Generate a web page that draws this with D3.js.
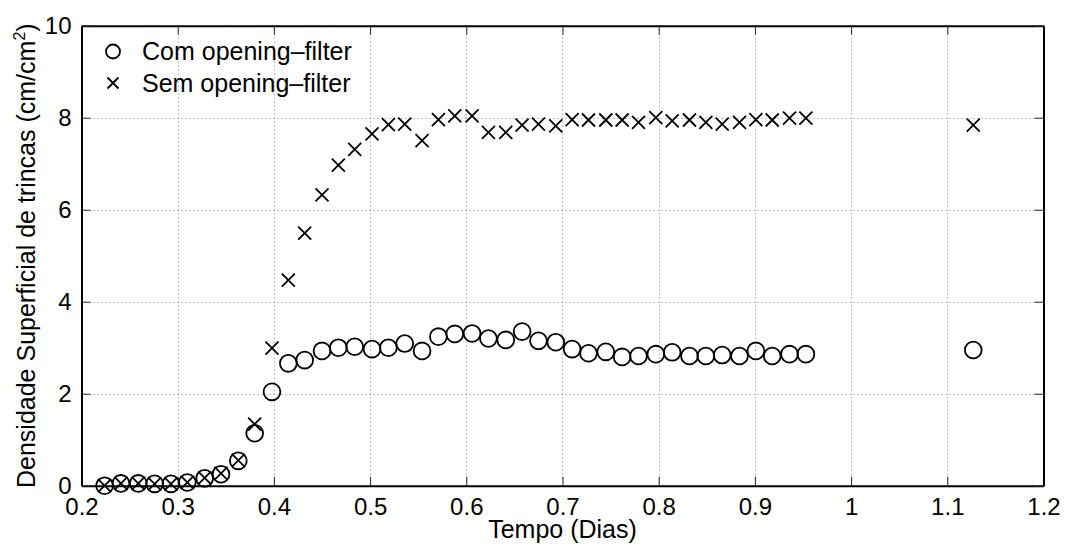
<!DOCTYPE html>
<html>
<head>
<meta charset="utf-8">
<script src="https://cdn.jsdelivr.net/npm/d3@7"></script>
<style>
  html, body { margin: 0; padding: 0; background: #fff; }
  svg { display: block; font-family: "Liberation Sans", Arial, Helvetica, sans-serif; }
</style>
</head>
<body>
<svg id="chart" width="1065" height="544"></svg>
<script>
// Tempo de ensaio (dias)
const tempo = [0.224, 0.241, 0.259, 0.276, 0.293, 0.310, 0.328, 0.345, 0.363, 0.380,
               0.398, 0.415, 0.432, 0.450, 0.467, 0.484, 0.502, 0.519, 0.536, 0.554,
               0.571, 0.588, 0.606, 0.623, 0.641, 0.658, 0.675, 0.693, 0.710, 0.727,
               0.745, 0.762, 0.779, 0.797, 0.814, 0.832, 0.849, 0.866, 0.884, 0.901,
               0.918, 0.936, 0.953, 1.127];

// Densidade superficial de trincas (cm/cm²) com opening-filter
const comFiltro = [0.00, 0.05, 0.05, 0.04, 0.04, 0.07, 0.16, 0.25, 0.54, 1.14,
                   2.04, 2.66, 2.73, 2.93, 3.00, 3.02, 2.97, 3.00, 3.09, 2.93,
                   3.24, 3.30, 3.31, 3.20, 3.17, 3.35, 3.15, 3.12, 2.97, 2.88,
                   2.91, 2.80, 2.82, 2.86, 2.90, 2.82, 2.82, 2.84, 2.82, 2.93,
                   2.82, 2.86, 2.86, 2.95];

// Densidade superficial de trincas (cm/cm²) sem opening-filter
const semFiltro = [0.00, 0.05, 0.05, 0.04, 0.04, 0.07, 0.17, 0.27, 0.55, 1.34,
                   2.99, 4.47, 5.49, 6.32, 6.97, 7.31, 7.65, 7.85, 7.86, 7.50,
                   7.96, 8.04, 8.04, 7.68, 7.68, 7.84, 7.86, 7.82, 7.96, 7.95,
                   7.95, 7.95, 7.90, 8.00, 7.93, 7.95, 7.90, 7.86, 7.90, 7.96,
                   7.95, 7.99, 7.99, 7.84];

const xTicks = [0.2, 0.3, 0.4, 0.5, 0.6, 0.7, 0.8, 0.9, 1, 1.1, 1.2];
const yTicks = [0, 2, 4, 6, 8, 10];
const legendLabels = ["Com opening\u2013filter", "Sem opening\u2013filter"];

const svg = d3.select("#chart");
const margin = { left: 81.5, right: 1065 - 1043.5, top: 25.7, bottom: 544 - 485.7 };
const W = 1065, H = 544;

const x = d3.scaleLinear().domain([0.2, 1.2]).range([margin.left, W - margin.right]);
const y = d3.scaleLinear().domain([0, 10]).range([H - margin.bottom, margin.top]);

// grade pontilhada
const grid = svg.append("g").attr("class", "grid")
  .attr("stroke", "#8a8a8a").attr("stroke-width", 1).attr("stroke-dasharray", "1,3");
grid.selectAll("line.v").data(xTicks.slice(1, -1)).join("line")
  .attr("x1", d => Math.round(x(d)) + 0.5).attr("x2", d => Math.round(x(d)) + 0.5)
  .attr("y1", y(10)).attr("y2", y(0));
grid.selectAll("line.h").data(yTicks.slice(1, -1)).join("line")
  .attr("y1", d => Math.round(y(d)) + 0.5).attr("y2", d => Math.round(y(d)) + 0.5)
  .attr("x1", x(0.2)).attr("x2", x(1.2));

// eixos com marcas para dentro
const tickLen = 9;
const styleAxis = g => {
  g.select(".domain").attr("stroke", "#000").attr("stroke-width", 2);
  g.selectAll(".tick line").attr("stroke", "#222").attr("stroke-width", 1);
  g.selectAll(".tick text").attr("fill", "#000").attr("font-size", 24)
    .attr("font-family", "'Liberation Sans', Arial, Helvetica, sans-serif");
};

svg.append("g").attr("transform", `translate(0,${y(0)})`)
  .call(d3.axisBottom(x).tickValues(xTicks).tickFormat(d => String(d))
    .tickSizeInner(-tickLen).tickSizeOuter(0).tickPadding(12))
  .call(styleAxis);
svg.append("g").attr("transform", `translate(0,${y(10)})`)
  .call(d3.axisTop(x).tickValues(xTicks).tickFormat("")
    .tickSizeInner(-tickLen).tickSizeOuter(0))
  .call(styleAxis);
svg.append("g").attr("transform", `translate(${x(0.2)},0)`)
  .call(d3.axisLeft(y).tickValues(yTicks).tickFormat(d => String(d))
    .tickSizeInner(-tickLen).tickSizeOuter(0).tickPadding(10))
  .call(styleAxis);
svg.append("g").attr("transform", `translate(${x(1.2)},0)`)
  .call(d3.axisRight(y).tickValues(yTicks).tickFormat("")
    .tickSizeInner(-tickLen).tickSizeOuter(0))
  .call(styleAxis);

// séries
const pontos = tempo.map((t, i) => ({ t, com: comFiltro[i], sem: semFiltro[i] }));
const rCirc = 8.4, hCruz = 6.5;

svg.append("g").selectAll("circle").data(pontos).join("circle")
  .attr("cx", d => x(d.t)).attr("cy", d => y(d.com)).attr("r", rCirc)
  .attr("fill", "none").attr("stroke", "#000").attr("stroke-width", 1.8);

const cruz = (cx, cy, h) => `M${cx - h},${cy - h}L${cx + h},${cy + h}M${cx - h},${cy + h}L${cx + h},${cy - h}`;
svg.append("g").selectAll("path").data(pontos).join("path")
  .attr("d", d => cruz(x(d.t), y(d.sem), hCruz))
  .attr("fill", "none").attr("stroke", "#000").attr("stroke-width", 1.8);

// legenda
const leg = svg.append("g").attr("font-size", 25);
leg.append("circle").attr("cx", 113).attr("cy", 51.5).attr("r", 7)
  .attr("fill", "none").attr("stroke", "#000").attr("stroke-width", 1.8);
leg.append("path").attr("d", cruz(113, 83, 5.5))
  .attr("fill", "none").attr("stroke", "#000").attr("stroke-width", 1.8);
leg.selectAll("text").data(legendLabels).join("text")
  .attr("x", 142).attr("y", (d, i) => 60 + i * 31.5).text(d => d);

// títulos dos eixos
svg.append("text").attr("x", (x(0.2) + x(1.2)) / 2).attr("y", 538)
  .attr("text-anchor", "middle").attr("font-size", 25).text("Tempo (Dias)");

const yl = svg.append("text")
  .attr("transform", `translate(35,${(y(0) + y(10)) / 2}) rotate(-90)`)
  .attr("text-anchor", "middle").attr("font-size", 25);
yl.append("tspan").text("Densidade Superficial de trincas (cm/cm");
yl.append("tspan").attr("font-size", 16).attr("dy", -10).text("2");
yl.append("tspan").attr("dy", 10).text(")");
</script>
</body>
</html>
